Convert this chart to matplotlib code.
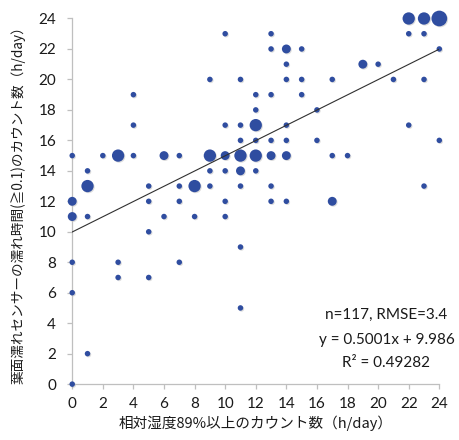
import matplotlib
matplotlib.use("Agg")
import matplotlib.pyplot as plt
import matplotlib.transforms as mtransforms
import numpy as np

# counts (h/day); n = bubble multiplicity
rh_count = [0, 0, 0, 0, 0, 0,
            1, 1, 1, 1,
            2,
            3, 3, 3,
            4, 4, 4,
            5, 5, 5, 5,
            6, 6,
            7, 7, 7, 7,
            8, 8,
            9, 9, 9, 9,
            10, 10, 10, 10, 10, 10,
            11, 11, 11, 11, 11, 11, 11, 11,
            12, 12, 12, 12, 12, 12,
            13, 13, 13, 13, 13, 13, 13,
            14, 14, 14, 14, 14, 14, 14,
            15, 15, 15,
            16, 16,
            17, 17, 17,
            18,
            19,
            20,
            21,
            22, 22, 22,
            23, 23, 23, 23,
            24, 24, 24]
wet_count = [15, 12, 11, 8, 6, 0,
             14, 13, 11, 2,
             15,
             15, 8, 7,
             19, 17, 15,
             13, 12, 10, 7,
             15, 11,
             15, 13, 12, 8,
             13, 11,
             20, 15, 14, 13,
             23, 17, 15, 14, 12, 11,
             20, 17, 16, 15, 14, 13, 9, 5,
             19, 18, 17, 16, 15, 14,
             23, 22, 19, 16, 15, 13, 12,
             22, 21, 20, 17, 16, 15, 12,
             22, 20, 19,
             18, 16,
             20, 15, 12,
             15,
             21,
             21,
             20,
             24, 23, 17,
             24, 23, 20, 13,
             24, 22, 16]
n_obs = [1, 2, 2, 1, 1, 1,
         1, 3, 1, 1,
         1,
         3, 1, 1,
         1, 1, 1,
         1, 1, 1, 1,
         2, 1,
         1, 1, 1, 1,
         3, 1,
         1, 3, 1, 1,
         1, 1, 2, 1, 1, 1,
         1, 1, 1, 3, 2, 1, 1, 1,
         1, 1, 3, 1, 3, 1,
         1, 1, 1, 1, 2, 1, 1,
         2, 1, 1, 1, 1, 2, 1,
         1, 1, 1,
         1, 1,
         1, 1, 2,
         1,
         2,
         1,
         1,
         3, 1, 1,
         3, 1, 1, 1,
         4, 1, 1]

slope = 0.5001
intercept = 9.986
ticks = list(range(0, 25, 2))

plt.rcParams['font.family'] = ['Lato', 'Noto Sans CJK JP', 'DejaVu Sans']
jp = ['Noto Sans CJK JP', 'DejaVu Sans']

fig = plt.figure(figsize=(4.6, 4.4), dpi=100)
ax = fig.add_axes([0.157, 0.127, 0.798, 0.831])

n = np.array(n_obs)
diam_px = 5.5 + 3.4 * (n - 1)
sizes = (diam_px * 72 / 100) ** 2

# faint drop shadow like the Excel markers
shadow = mtransforms.offset_copy(ax.transData, fig=fig, x=0.7, y=-0.7, units='points')
ax.scatter(rh_count, wet_count, s=sizes, color='#8c8c8c', alpha=0.3,
           linewidths=0, transform=shadow, clip_on=False, zorder=2)
ax.scatter(rh_count, wet_count, s=sizes, color='#2f4da0', linewidths=0,
           clip_on=False, zorder=3)

xs = np.array([0, 24])
ax.plot(xs, slope * xs + intercept, color='#303030', lw=0.8, zorder=4)

ax.set_xlim(0, 24)
ax.set_ylim(0, 24)
ax.set_xticks(ticks)
ax.set_yticks(ticks)
for s in ['top', 'right']:
    ax.spines[s].set_visible(False)
for s in ['left', 'bottom']:
    ax.spines[s].set_color('#bfbfbf')
    ax.spines[s].set_linewidth(0.9)
ax.tick_params(axis='both', direction='out', length=3.6, width=0.9,
               color='#bfbfbf', labelsize=11, labelcolor='#1a1a1a')
ax.tick_params(axis='y', pad=8)
ax.tick_params(axis='x', pad=6)

ax.set_xlabel('相対湿度89%以上のカウント数（h/day）', family=jp, fontsize=10.5,
              color='#1a1a1a', va='center')
ax.xaxis.set_label_coords(0.5, -0.107)
ax.set_ylabel('葉面濡れセンサーの濡れ時間(≧0.1)のカウント数（h/day）', family=jp,
              fontsize=9.8, color='#1a1a1a', va='center')
ax.yaxis.set_label_coords(-0.148, 0.5)

ax.text(0.856, 0.189, 'n=117, RMSE=3.4', transform=ax.transAxes,
        ha='center', va='center', fontsize=11, color='#1a1a1a')
ax.text(0.856, 0.120, 'y = 0.5001x + 9.986', transform=ax.transAxes,
        ha='center', va='center', fontsize=11, color='#1a1a1a')
ax.text(0.856, 0.058, 'R² = 0.49282', transform=ax.transAxes,
        ha='center', va='center', fontsize=11, color='#1a1a1a')

fig.savefig('out.png', dpi=100)
